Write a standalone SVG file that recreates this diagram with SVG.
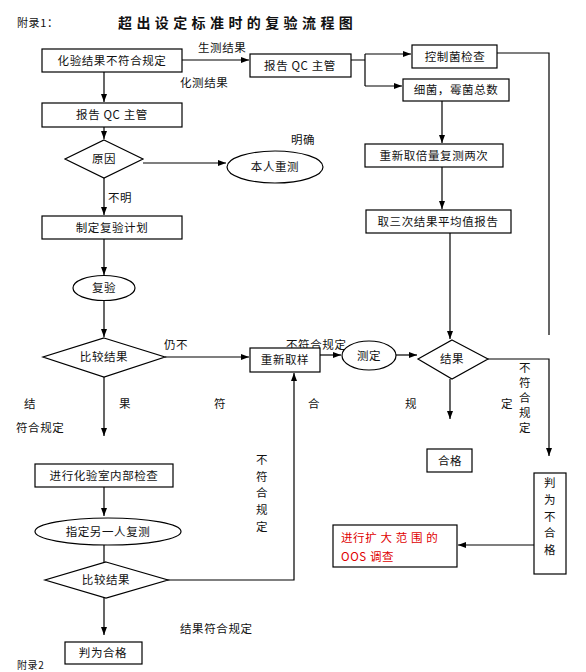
<svg xmlns="http://www.w3.org/2000/svg" width="586" height="672" viewBox="0 0 586 672">
<defs>
<marker id="arr" markerWidth="8" markerHeight="6" refX="8" refY="3" orient="auto" markerUnits="userSpaceOnUse">
<path d="M0,0 L8,3 L0,6 z" fill="#000"/>
</marker>
<style>
text{font-family:"Noto Sans CJK SC","Liberation Serif",serif;font-size:11.5px;fill:#111;letter-spacing:0.6px}
.c{text-anchor:middle}
.box{fill:#fff;stroke:#000;stroke-width:1.2}
.ln{fill:none;stroke:#000;stroke-width:1.2}
.a{marker-end:url(#arr)}
.red{fill:#e00000}
.title{font-size:14px;font-weight:bold;letter-spacing:4.4px}
</style>
</defs>
<rect width="586" height="672" fill="#fff"/>
<text x="17" y="27" style="font-size:11px">附录1：</text>
<text x="118" y="28" class="title">超出设定标准时的复验流程图</text>

<g id="connectors">
<path class="ln a" d="M182,60 H249"/>
<path class="ln a" d="M104,72 V102"/>
<path class="ln" d="M351,60 H365 M365,54 V86"/>
<path class="ln a" d="M365,54 H411"/>
<path class="ln a" d="M365,86 H402"/>
<path class="ln" d="M497,53 H549 V335"/>
<path class="ln a" d="M442,101 V143"/>
<path class="ln a" d="M442,167 V209"/>
<path class="ln a" d="M450,233 V339"/>
<path class="ln a" d="M104,127 V139"/>
<path class="ln a" d="M143,163 H226"/>
<path class="ln a" d="M104,178 V215"/>
<path class="ln a" d="M104,239 V275"/>
<path class="ln a" d="M104,300 V337"/>
<path class="ln a" d="M165,357 H249"/>
<path class="ln a" d="M320,355 H341"/>
<path class="ln a" d="M396,355 H417"/>
<path class="ln a" d="M488,359 H549 V456"/>
<path class="ln a" d="M450,379 V419"/>
<path class="ln a" d="M104,377 V436"/>
<path class="ln a" d="M104,487 V516"/>
<path class="ln" d="M104,545 V562"/>
<path class="ln a" d="M104,598 V635"/>
<path class="ln a" d="M167,580 H294 V373"/>
<path class="ln a" d="M534,545 H458"/>
</g>

<g id="labels">
<text x="198" y="52">生测结果</text>
<text x="180" y="87">化测结果</text>
<text x="291" y="144">明确</text>
<text x="108" y="202">不明</text>
<text x="164" y="349">仍不</text>
<text x="286" y="349">不符合规定</text>
<text x="30" y="408" class="c">结</text>
<text x="125" y="408" class="c">果</text>
<text x="220" y="408" class="c">符</text>
<text x="314" y="408" class="c">合</text>
<text x="411" y="408" class="c">规</text>
<text x="507" y="408" class="c">定</text>
<text x="16" y="432">符合规定</text>
<text x="525" y="372" class="c">不</text>
<text x="525" y="387" class="c">符</text>
<text x="525" y="402" class="c">合</text>
<text x="525" y="417" class="c">规</text>
<text x="525" y="432" class="c">定</text>
<text x="262" y="464" class="c">不</text>
<text x="262" y="481" class="c">符</text>
<text x="262" y="497" class="c">合</text>
<text x="262" y="514" class="c">规</text>
<text x="262" y="531" class="c">定</text>
<text x="180" y="633">结果符合规定</text>
<text x="17" y="669" style="font-size:10px">附录2</text>
</g>

<g id="n1"><rect class="box" x="42" y="49" width="140" height="23"/><text x="112" y="65" class="c">化验结果不符合规定</text></g>
<g id="n2"><rect class="box" x="250" y="54" width="101" height="23"/><text x="300" y="70" class="c">报告 QC 主管</text></g>
<g id="n3"><rect class="box" x="412" y="45" width="85" height="23"/><text x="455" y="61" class="c">控制菌检查</text></g>
<g id="n4"><rect class="box" x="403" y="79" width="106" height="22"/><text x="456" y="94" class="c">细菌，霉菌总数</text></g>
<g id="n5"><rect class="box" x="365" y="144" width="138" height="23"/><text x="434" y="160" class="c">重新取倍量复测两次</text></g>
<g id="n6"><rect class="box" x="366" y="210" width="145" height="23"/><text x="438" y="226" class="c">取三次结果平均值报告</text></g>
<g id="n7"><rect class="box" x="42" y="103" width="140" height="24"/><text x="112" y="119" class="c">报告 QC 主管</text></g>
<g id="n8"><polygon class="box" points="104,140 143,159 104,178 65,159"/><text x="104" y="163" class="c">原因</text></g>
<g id="n9"><ellipse class="box" cx="275" cy="167" rx="48" ry="16"/><text x="275" y="171" class="c">本人重测</text></g>
<g id="n10"><rect class="box" x="42" y="216" width="140" height="23"/><text x="112" y="232" class="c">制定复验计划</text></g>
<g id="n11"><ellipse class="box" cx="104" cy="288" rx="31" ry="12.5"/><text x="104" y="292" class="c">复验</text></g>
<g id="n12"><polygon class="box" points="104,338 165,357 104,377 43,357"/><text x="104" y="361" class="c">比较结果</text></g>
<g id="n13"><rect class="box" x="250" y="348" width="70" height="24"/><text x="285" y="364" class="c">重新取样</text></g>
<g id="n14"><ellipse class="box" cx="369" cy="355.5" rx="27" ry="14.5"/><text x="369" y="360" class="c">测定</text></g>
<g id="n15"><polygon class="box" points="452,340 488,359 452,379 418,359"/><text x="452" y="363" class="c">结果</text></g>
<g id="n16"><rect class="box" x="427" y="449" width="45" height="23"/><text x="450" y="465" class="c">合格</text></g>
<g id="n17"><rect class="box" x="534" y="473" width="32" height="101"/>
<text x="550" y="487" class="c">判</text><text x="550" y="504" class="c">为</text><text x="550" y="521" class="c">不</text><text x="550" y="537" class="c">合</text><text x="550" y="554" class="c">格</text></g>
<g id="n18"><rect class="box" x="333" y="525" width="124" height="42"/><text x="341" y="542" class="red">进行扩 大 范 围 的</text><text x="341" y="561" class="red">OOS 调查</text></g>
<g id="n19"><rect class="box" x="35" y="464" width="138" height="23"/><text x="104" y="480" class="c">进行化验室内部检查</text></g>
<g id="n20"><ellipse class="box" cx="108" cy="531.5" rx="73" ry="13.5"/><text x="108" y="536" class="c">指定另一人复测</text></g>
<g id="n21"><polygon class="box" points="106,562 168,580 106,598 45,580"/><text x="106" y="584" class="c">比较结果</text></g>
<g id="n22"><rect class="box" x="65" y="642" width="77" height="22"/><text x="103" y="657" class="c">判为合格</text></g>
</svg>
